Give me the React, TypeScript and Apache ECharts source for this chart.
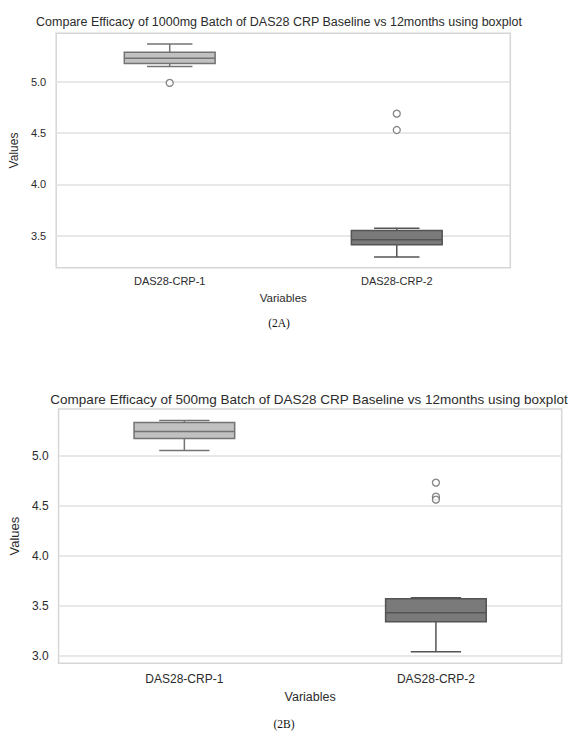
import React, { useEffect, useRef } from 'react';
import * as echarts from 'echarts';

// data
const categories = ['DAS28-CRP-1', 'DAS28-CRP-2'];
const yTicks = [3.0, 3.5, 4.0, 4.5, 5.0];

// [min, Q1, median, Q3, max] per category
const boxA = [
  [5.15, 5.18, 5.23, 5.29, 5.37],
  [3.29, 3.41, 3.46, 3.55, 3.57],
];
const outliersA = [
  [0, 4.99],
  [1, 4.69],
  [1, 4.53],
];

const boxB = [
  [5.05, 5.17, 5.24, 5.33, 5.35],
  [3.04, 3.34, 3.43, 3.57, 3.58],
];
const outliersB = [
  [1, 4.73],
  [1, 4.59],
  [1, 4.56],
];

const titleA = 'Compare Efficacy of 1000mg Batch of DAS28 CRP Baseline vs 12months using boxplot';
const titleB = 'Compare Efficacy of 500mg Batch of DAS28 CRP Baseline vs 12months using boxplot';

const FONT = "'Liberation Sans', Arial, sans-serif";
const SERIF = "'Liberation Serif', 'Times New Roman', serif";
const TEXT = '#2b2b2b';
const boxFill = ['#c1c1c1', '#7a7a7a'];
const boxLine = ['#737373', '#545454'];

// matplotlib-style 5% margin around the data
const yRange = (boxes: number[][], outs: number[][]) => {
  const vals = [...boxes.flat(), ...outs.map(o => o[1])];
  const lo = Math.min(...vals);
  const hi = Math.max(...vals);
  const pad = (hi - lo) * 0.05;
  return [lo - pad, hi + pad];
};

const renderBox = (params: any, api: any) => {
  const x = api.value(0);
  const band = api.size([1, 0])[0];
  const half = band * 0.2;
  const cap = band * 0.1;
  const y = (i: number) => api.coord([x, api.value(i)])[1];
  const cx = api.coord([x, api.value(1)])[0];
  const [yMin, yQ1, yMed, yQ3, yMax] = [y(1), y(2), y(3), y(4), y(5)];
  const idx = params.dataIndex;
  const line = { stroke: boxLine[idx], lineWidth: 1.5 };
  return {
    type: 'group',
    children: [
      { type: 'line', shape: { x1: cx, y1: yMax, x2: cx, y2: yQ3 }, style: line },
      { type: 'line', shape: { x1: cx, y1: yQ1, x2: cx, y2: yMin }, style: line },
      { type: 'line', shape: { x1: cx - cap, y1: yMax, x2: cx + cap, y2: yMax }, style: line },
      { type: 'line', shape: { x1: cx - cap, y1: yMin, x2: cx + cap, y2: yMin }, style: line },
      {
        type: 'rect',
        shape: { x: cx - half, y: yQ3, width: half * 2, height: yQ1 - yQ3 },
        style: { fill: boxFill[idx], stroke: boxLine[idx], lineWidth: 1.5 },
      },
      { type: 'line', shape: { x1: cx - half, y1: yMed, x2: cx + half, y2: yMed }, style: line },
    ],
  };
};

const makeAxes = (gi: number, range: number[], labelSize: number, nameSize: number, xGap: number, yGap: number, xMargin: number) => {
  const ticks = yTicks.filter(t => t >= range[0] && t <= range[1]);
  return {
    x: {
      type: 'category',
      gridIndex: gi,
      data: categories,
      name: 'Variables',
      nameLocation: 'middle',
      nameGap: xGap,
      nameTextStyle: { fontFamily: FONT, fontSize: nameSize, color: TEXT },
      axisLine: { show: false },
      axisTick: { show: false },
      axisLabel: { fontFamily: FONT, fontSize: labelSize, color: TEXT, margin: xMargin },
      splitLine: { show: false },
    },
    y: {
      type: 'value',
      gridIndex: gi,
      min: range[0],
      max: range[1],
      name: 'Values',
      nameLocation: 'middle',
      nameGap: yGap,
      nameTextStyle: { fontFamily: FONT, fontSize: nameSize + 0.5, color: TEXT },
      axisLine: { show: false },
      axisTick: { show: false, customValues: ticks },
      axisLabel: {
        customValues: ticks,
        fontFamily: FONT,
        fontSize: labelSize,
        color: TEXT,
        margin: 10,
        formatter: (v: number) => v.toFixed(1),
      },
      splitLine: { show: true, lineStyle: { color: '#e0e0e0', width: 1.5 } },
    },
  };
};

export default function App() {
  const chartRef = useRef<HTMLDivElement>(null);

  useEffect(() => {
    if (!chartRef.current) return;
    const chart = echarts.init(chartRef.current, null, { renderer: 'svg' });

    const rangeA = yRange(boxA, outliersA);
    const rangeB = yRange(boxB, outliersB);
    const axA = makeAxes(0, rangeA, 11, 11.5, 24, 31, 8);
    const axB = makeAxes(1, rangeB, 12, 12.5, 27, 33, 10);

    const scatterStyle = {
      symbol: 'circle',
      symbolSize: 7,
      itemStyle: { color: '#fff', borderColor: '#666', borderWidth: 1.3 },
    };

    const option = {
      animation: false,
      backgroundColor: '#fff',
      title: [
        {
          text: titleA,
          left: 279,
          top: 15,
          textAlign: 'center',
          padding: 0,
          textStyle: { fontFamily: FONT, fontSize: 12.5, fontWeight: 'normal', color: TEXT },
        },
        {
          text: titleB,
          left: 309,
          top: 392,
          textAlign: 'center',
          padding: 0,
          textStyle: { fontFamily: FONT, fontSize: 13.5, fontWeight: 'normal', color: TEXT },
        },
      ],
      grid: [
        { left: 54.3, top: 33.3, width: 456, height: 234.4, show: true, borderColor: '#d6d6d6', borderWidth: 1.5, backgroundColor: '#fff' },
        { left: 55.3, top: 409, width: 506.4, height: 254.3, show: true, borderColor: '#d6d6d6', borderWidth: 1.5, backgroundColor: '#fff' },
      ],
      xAxis: [axA.x, axB.x],
      yAxis: [axA.y, axB.y],
      graphic: [
        {
          type: 'text',
          x: 279,
          y: 323,
          style: { text: '(2A)', font: `11.5px ${SERIF}`, fill: '#111', align: 'center', verticalAlign: 'middle' },
        },
        {
          type: 'text',
          x: 284,
          y: 724,
          style: { text: '(2B)', font: `11.5px ${SERIF}`, fill: '#111', align: 'center', verticalAlign: 'middle' },
        },
      ],
      series: [
        {
          type: 'custom',
          xAxisIndex: 0,
          yAxisIndex: 0,
          renderItem: renderBox,
          encode: { x: 0, y: [1, 2, 3, 4, 5] },
          data: boxA.map((b, i) => [i, ...b]),
          z: 3,
        },
        { type: 'scatter', xAxisIndex: 0, yAxisIndex: 0, data: outliersA, ...scatterStyle, z: 4 },
        {
          type: 'custom',
          xAxisIndex: 1,
          yAxisIndex: 1,
          renderItem: renderBox,
          encode: { x: 0, y: [1, 2, 3, 4, 5] },
          data: boxB.map((b, i) => [i, ...b]),
          z: 3,
        },
        { type: 'scatter', xAxisIndex: 1, yAxisIndex: 1, data: outliersB, ...scatterStyle, z: 4 },
      ],
    };

    chart.setOption(option);
    return () => chart.dispose();
  }, []);

  return (
    <div
      ref={chartRef}
      style={{ position: 'absolute', left: 0, top: 0, width: '588px', height: '754px', background: '#fff' }}
    />
  );
}
